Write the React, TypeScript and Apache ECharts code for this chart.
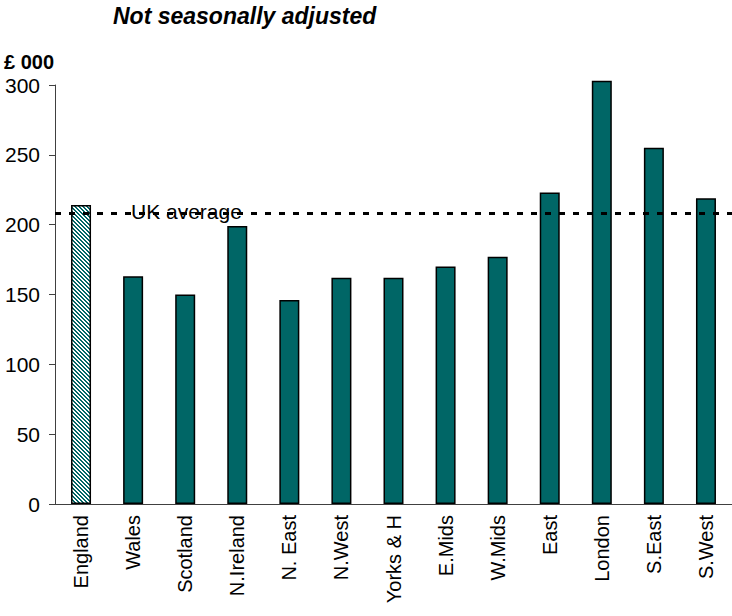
import React, { useEffect, useRef } from "react";
import * as echarts from "echarts";

const regions = [
  "England",
  "Wales",
  "Scotland",
  "N.Ireland",
  "N. East",
  "N.West",
  "Yorks & H",
  "E.Mids",
  "W.Mids",
  "East",
  "London",
  "S.East",
  "S.West",
];
const prices = [214, 163, 150, 199, 146, 162, 162, 170, 177, 223, 303, 255, 219];
const ukAverage = 208;
const yTicks = { min: 0, max: 300, interval: 50 };

const TEAL = "#006666";
const FONT = "'Liberation Sans', Arial, sans-serif";

function hatchPattern(): HTMLCanvasElement {
  const c = document.createElement("canvas");
  c.width = 4;
  c.height = 4;
  const ctx = c.getContext("2d")!;
  ctx.fillStyle = "#ffffff";
  ctx.fillRect(0, 0, 4, 4);
  ctx.fillStyle = TEAL;
  for (let y = 0; y < 4; y++) {
    for (let x = 0; x < 4; x++) {
      const d = (x - y + 8) % 4;
      if (d === 0 || d === 1) ctx.fillRect(x, y, 1, 1);
    }
  }
  return c;
}

export default function App() {
  const ref = useRef<HTMLDivElement>(null);

  useEffect(() => {
    document.body.style.margin = "0";
    if (!ref.current) return;
    const chart = echarts.init(ref.current, null, { renderer: "svg" });
    const pattern = hatchPattern();

    chart.setOption({
      animation: false,
      backgroundColor: "#ffffff",
      title: [
        {
          text: "Not seasonally adjusted",
          left: 113,
          top: 4,
          padding: 0,
          textStyle: {
            fontFamily: FONT,
            fontSize: 23,
            fontWeight: "bold",
            fontStyle: "italic",
            color: "#000",
          },
        },
        {
          text: "£ 000",
          left: 4,
          top: 52,
          padding: 0,
          textStyle: {
            fontFamily: FONT,
            fontSize: 20,
            fontWeight: "bold",
            color: "#000",
          },
        },
      ],
      grid: { left: 55, top: 85, width: 680, height: 419, containLabel: false },
      xAxis: {
        type: "category",
        data: regions,
        axisLine: { lineStyle: { color: "#404040", width: 1 } },
        axisTick: { length: 5, interval: 0, lineStyle: { color: "#404040" } },
        axisLabel: {
          interval: 0,
          rotate: 90,
          margin: 11,
          fontFamily: FONT,
          fontSize: 20,
          color: "#000",
        },
      },
      yAxis: {
        type: "value",
        min: yTicks.min,
        max: yTicks.max,
        interval: yTicks.interval,
        splitLine: { show: false },
        axisLine: { show: true, lineStyle: { color: "#404040", width: 1 } },
        axisTick: { show: true, length: 6, lineStyle: { color: "#404040" } },
        axisLabel: {
          margin: 15,
          fontFamily: FONT,
          fontSize: 21,
          color: "#000",
        },
      },
      series: [
        {
          type: "bar",
          clip: false,
          barWidth: 20,
          data: prices.map((v, i) =>
            i === 0
              ? {
                  value: v,
                  itemStyle: {
                    color: { image: pattern, repeat: "repeat" },
                  },
                }
              : v
          ),
          itemStyle: {
            color: TEAL,
            borderColor: "#000",
            borderWidth: 1.5,
          },
          markLine: {
            silent: true,
            symbol: ["none", "none"],
            lineStyle: { color: "#000", width: 3, type: [6, 8] },
            label: {
              show: true,
              position: "insideStartTop",
              formatter: "UK average",
              fontFamily: FONT,
              fontSize: 21,
              color: "#000",
              padding: [0, 0, -14, 71],
            },
            data: [{ yAxis: ukAverage }],
          },
        },
      ],
    });

    return () => chart.dispose();
  }, []);

  return <div ref={ref} style={{ width: 732, height: 616 }} />;
}
